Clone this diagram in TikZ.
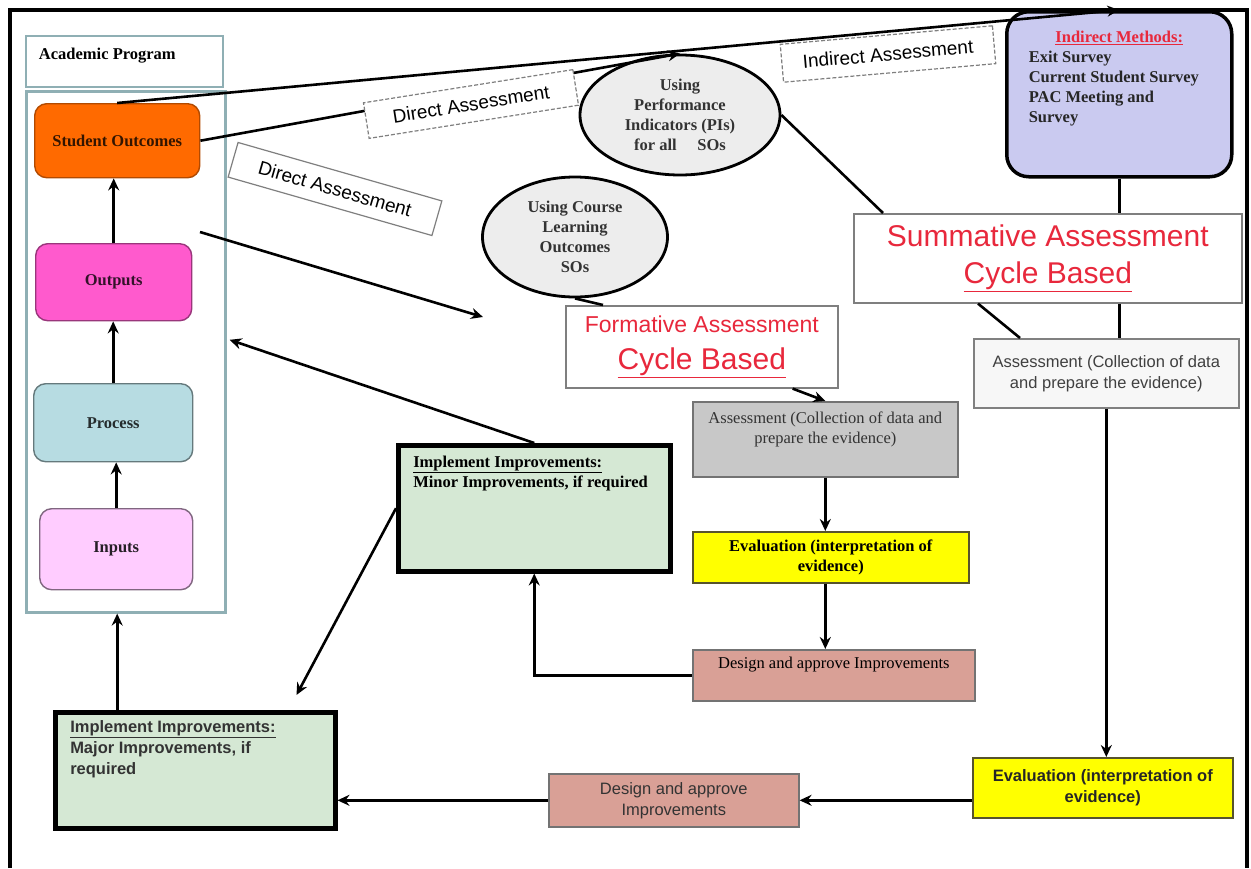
\documentclass[tikz,border=0pt]{standalone}
\usepackage{fontspec}
\setmainfont{Liberation Serif}
\setsansfont{Liberation Sans}
\usetikzlibrary{shapes.geometric,arrows.meta,calc}
\definecolor{frameblue}{HTML}{8FAFB4}
\definecolor{soorange}{HTML}{FF6A00}
\definecolor{outpink}{HTML}{FF5ACD}
\definecolor{procblue}{HTML}{B7DCE2}
\definecolor{inpink}{HTML}{FFCCFF}
\definecolor{impgreen}{HTML}{D5E8D4}
\definecolor{asgrey}{HTML}{C8C8C8}
\definecolor{evyellow}{HTML}{FFFF00}
\definecolor{desrose}{HTML}{D9A096}
\definecolor{indlav}{HTML}{CACAF0}
\definecolor{elgrey}{HTML}{EDEDED}
\definecolor{cycred}{HTML}{E8283C}
\definecolor{boxgrey}{HTML}{7F7F7F}
\tikzset{
  wh/.style 2 args={minimum width=#1pt,minimum height=#2pt},
  tserif/.style={font=\fontsize{16.5}{20}\selectfont},
  tbserif/.style={font=\fontsize{16.5}{20}\selectfont\bfseries},
  tsans/.style={font=\sffamily\fontsize{16.5}{21}\selectfont},
  tbsans/.style={font=\sffamily\bfseries\fontsize{16.5}{21}\selectfont},
  box/.style={draw=boxgrey,line width=1.6pt,inner sep=0pt,anchor=north west,align=center},
  rbox/.style={box,rounded corners=12pt,line width=1.4pt,tbserif},
  impr/.style={box,draw=black,line width=4.5pt,fill=impgreen},
  cyc/.style={box,fill=white,text=cycred,font=\sffamily\fontsize{30}{37}\selectfont},
  bubble/.style={ellipse,draw=black,line width=2.8pt,fill=elgrey,inner sep=0pt,align=center,text=black!80,tbserif},
  alabel/.style={draw=boxgrey,line width=1.2pt,fill=white,inner sep=0pt,font=\sffamily\fontsize{19}{22}\selectfont,wh={212}{36}},
  dashy/.style={dash pattern=on 4pt off 2pt},
  link/.style={line width=2.6pt},
  arr/.style={link,-{Stealth[length=12pt,width=11pt,inset=4pt]}},
}
\begin{document}
\begin{tikzpicture}[x=1pt,y=-1pt]
\useasboundingbox (0,0) rectangle (1251,868);
\draw[line width=4pt] (10,868) -- (10,10) -- (1247,10) -- (1247,868);

\node[box,draw=frameblue,line width=2pt,wh={197}{51},tbserif] (ap) at (25,35) {\parbox[c][51pt][t]{197pt}{\vspace*{12pt}\hspace*{13pt}Academic Program}};
\node[box,draw=frameblue,line width=2.6pt,wh={199}{521}] (prog) at (25,90) {};
\node[rbox,fill=soorange,draw=soorange!70!black,text=soorange!20!black,wh={165}{74}] (so) at (34,103) {Student Outcomes};
\node[rbox,fill=outpink,draw=outpink!60!black,text=outpink!20!black,wh={156}{77}] (out) at (35,243) {Outputs};
\node[rbox,fill=procblue,draw=procblue!55!black,text=procblue!20!black,wh={159}{78}] (proc) at (33,383) {Process};
\node[rbox,fill=inpink,draw=inpink!50!black,text=inpink!15!black,wh={153}{81}] (inp) at (39,508) {Inputs};

\node[impr,tbsans,text=black!80,wh={280}{116}] (major) at (53,710) {\parbox[c][116pt][t]{280pt}{\vspace*{8pt}\leftskip=15pt\underline{Implement Improvements:}\\Major Improvements, if\\required}};
\node[impr,tbserif,wh={272}{126}] (minor) at (396,443) {\parbox[c][126pt][t]{272pt}{\vspace*{11pt}\leftskip=15pt\underline{Implement Improvements:}\\Minor Improvements, if required}};
\node[box,draw=black,line width=3.5pt,rounded corners=22pt,fill=indlav,tbserif,text=black!85,wh={225}{165}] (ind) at (1005,10) {\parbox[c][165pt][t]{225pt}{\vspace*{19pt}\centerline{\color{cycred}\underline{Indirect Methods:}}\leftskip=22pt Exit Survey\\Current Student Survey\\PAC Meeting and\\Survey}};

\node[cyc,wh={272}{82}] (fa) at (565,305) {{\fontsize{23}{26}\selectfont Formative Assessment}\\\underline{Cycle Based}};
\node[cyc,wh={388}{89}] (sum) at (853,213) {Summative Assessment\\\underline{Cycle Based}};

\node[box,fill=asgrey,draw=black!55,tserif,text=black!80,wh={265}{75}] (afo) at (692,401) {\parbox[c][75pt][t]{265pt}{\vspace*{10pt}\centering Assessment (Collection of data and\\prepare the evidence)}};
\node[box,fill=evyellow,draw=black!50!olive,tbserif,wh={276}{51}] (efo) at (692,531) {Evaluation (interpretation of\\evidence)};
\node[box,fill=desrose,draw=black!55,tserif,wh={282}{51}] (dfo) at (692,649) {\parbox[c][51pt][t]{282pt}{\vspace*{7pt}\centering Design and approve Improvements}};

\node[box,fill=black!3,draw=black!50,tsans,text=black!75,wh={265}{69}] (asu) at (973,338) {Assessment (Collection of data\\and prepare the evidence)};
\node[box,fill=evyellow,draw=black!50!olive,tbsans,text=black!85,wh={260}{60}] (esu) at (972,757) {Evaluation (interpretation of\\evidence)};
\node[box,fill=desrose,draw=black!55,tsans,text=black!80,wh={250}{53}] (dsu) at (548,773) {Design and approve\\Improvements};

\node[bubble,wh={200}{120}] (pi) at (680,115) {Using\\Performance\\Indicators (PIs)\\for all \quad SOs};
\node[bubble,wh={185}{120}] (cl) at (575,237) {Using Course\\Learning\\Outcomes\hspace*{1.3em}\\SOs};

\coordinate (s1) at (200,232);
\coordinate (t1) at (483,317);

\draw[arr] (inp.north) -- (inp.north |- proc.south);
\draw[arr] (proc.north) -- (proc.north |- out.south);
\draw[arr] (out.north) -- (out.north |- so.south);
\draw[arr] (so.south |- major.north) -- (so.south |- prog.south);
\draw[arr] (so.north) -- (ind.north);
\draw[arr] (so.east) -- (pi.north);
\draw[arr] (s1) -- (t1);
\draw[arr] (minor.north) -- ($(prog.east)+(3,-12)$);
\draw[arr] (minor.west) -- ($(major.north east)+(-41,-15)$);
\draw[arr] (dfo.west) -| (minor.south);
\draw[arr] (afo.south) -- (afo.south |- efo.north);
\draw[arr] (afo.south |- efo.south) -- (afo.south |- dfo.north);
\draw[arr] ($(fa.south east)+(-46,0)$) -- (afo.north);
\draw[link] (cl.south) -- ($(fa.north west)+(38,0)$);
\draw[link] (pi.east) -- ($(sum.north west)+(30,0)$);
\draw[link] (ind.south) -- (ind.south |- sum.north);
\draw[link] (ind.south |- sum.south) -- (ind.south |- asu.north);
\draw[link] ($(sum.south west)+(125,0)$) -- ($(asu.north west)+(47,0)$);
\draw[arr] (asu.south) -- (asu.south |- esu.north);
\draw[arr] (esu.west |- dsu.east) -- (dsu.east);
\draw[arr] (dsu.west) -- (dsu.west -| major.east);

\node[alabel,dashy,rotate=9] (da1) at (471,104) {Direct Assessment};
\node[alabel,rotate=-16] (da2) at (335,189) {Direct Assessment};
\node[alabel,dashy,rotate=5,wh={213}{38}] (ia) at (888,54) {Indirect Assessment};
\end{tikzpicture}
\end{document}
